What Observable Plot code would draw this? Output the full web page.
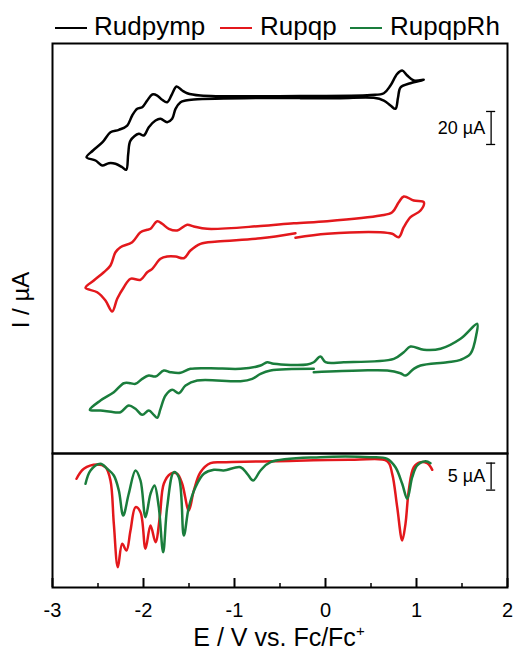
<!DOCTYPE html>
<html>
<head>
<meta charset="utf-8">
<script src="https://cdn.jsdelivr.net/npm/d3@7"></script>
<script src="https://cdn.jsdelivr.net/npm/@observablehq/plot@0.6"></script>
<style>
  body { margin: 0; background: #fff; font-family: "Liberation Sans", Arial, sans-serif; }
  #wrap { position: relative; width: 515px; height: 652px; overflow: hidden; background: #fff; }
  .abs { position: absolute; white-space: nowrap; color: #000; }
</style>
</head>
<body>
<div id="wrap"></div>
<script>
// ---------- data ----------
const seriesNames = ["Rudpymp", "Rupqp", "RupqpRh"];
const seriesColors = ["#000000", "#e3181c", "#1a7d3c"];
// vertical stacking offsets of the CV traces (µA)
const cvOffsets = [216, 135, 51.5];

// Cyclic voltammograms: [E (V vs Fc/Fc+), I (µA)]
const cvRudpymp = [[-0.275,-0.73],[0.165,-0.61],[0.531,-0.42],[0.641,-2.06],[0.714,-5.09],[0.769,-7.09],[0.797,-0.24],[0.824,5.82],[0.934,8.42],[1.080,10.48],[0.970,10.06],[0.898,13.09],[0.843,16.12],[0.788,14.12],[0.714,7.03],[0.641,2.36],[0.495,1.27],[-0.275,0.67],[-1.374,0.97],[-1.520,2.36],[-1.575,4.0],[-1.637,6.42],[-1.685,2.0],[-1.740,-3.09],[-1.795,-1.64],[-1.849,0.97],[-1.904,1.58],[-1.959,-2.06],[-2.014,-6.12],[-2.069,-7.09],[-2.124,-11.15],[-2.179,-17.21],[-2.271,-19.82],[-2.363,-21.27],[-2.450,-27.33],[-2.555,-32.36],[-2.626,-36.42],[-2.527,-38.42],[-2.454,-41.45],[-2.381,-40.06],[-2.308,-40.42],[-2.234,-42.48],[-2.190,-44.06],[-2.168,-34.36],[-2.143,-26.30],[-2.052,-22.24],[-1.997,-23.27],[-1.942,-18.24],[-1.868,-14.18],[-1.813,-13.15],[-1.740,-15.21],[-1.685,-13.15],[-1.648,-7.09],[-1.593,-3.09],[-1.538,-2.06],[-1.447,-1.45],[-0.714,-0.55],[-0.275,-0.55]];
const cvRupqp = [[-0.330,-4.27],[0.019,-1.85],[0.604,-0.88],[0.733,-1.85],[0.805,-3.91],[0.860,2.15],[0.934,8.21],[1.044,12.27],[1.080,17.30],[0.970,18.33],[0.860,20.76],[0.805,17.30],[0.733,11.24],[0.604,9.24],[0.019,5.79],[-0.348,4.58],[-0.714,2.88],[-1.300,1.18],[-1.447,2.58],[-1.520,3.61],[-1.630,0.15],[-1.722,1.18],[-1.795,4.21],[-1.849,5.79],[-1.923,1.18],[-1.959,0.58],[-2.033,-0.88],[-2.124,-6.94],[-2.253,-9.97],[-2.308,-13.0],[-2.363,-21.06],[-2.436,-25.12],[-2.546,-30.15],[-2.637,-34.58],[-2.509,-37.24],[-2.418,-42.27],[-2.344,-48.94],[-2.289,-41.24],[-2.216,-34.21],[-2.143,-29.12],[-2.033,-29.73],[-1.959,-25.12],[-1.904,-23.06],[-1.813,-17.0],[-1.740,-15.61],[-1.648,-15.61],[-1.557,-16.64],[-1.484,-11.97],[-1.374,-7.91],[-1.190,-6.52],[-0.714,-4.58],[-0.330,-1.48]];
const cvRupqpRh = [[-0.129,-2.24],[0.385,-1.21],[0.678,-1.21],[0.824,-2.85],[0.879,-4.24],[0.970,-0.18],[1.044,1.82],[1.337,3.82],[1.484,5.27],[1.593,8.91],[1.659,21.03],[1.667,27.09],[1.484,18.0],[1.264,11.94],[1.080,11.33],[0.934,13.33],[0.860,9.88],[0.751,5.88],[0.201,3.82],[0.000,3.82],[-0.055,7.27],[-0.129,3.82],[-0.201,2.42],[-0.568,2.85],[-0.641,3.82],[-0.714,1.82],[-0.934,-0.18],[-1.264,0.18],[-1.484,-0.18],[-1.593,-2.61],[-1.703,-2.24],[-1.777,-1.21],[-1.868,-4.85],[-1.942,-4.24],[-2.014,-6.24],[-2.088,-9.27],[-2.143,-8.91],[-2.216,-8.91],[-2.326,-14.36],[-2.473,-19.39],[-2.590,-25.03],[-2.473,-25.45],[-2.326,-26.48],[-2.253,-26.48],[-2.162,-22.42],[-2.088,-24.42],[-2.014,-28.06],[-1.942,-25.45],[-1.887,-28.06],[-1.849,-29.88],[-1.813,-24.42],[-1.758,-16.36],[-1.685,-12.91],[-1.612,-14.97],[-1.538,-10.30],[-1.410,-7.27],[-0.934,-7.70],[-0.805,-6.24],[-0.714,-3.21],[-0.604,-1.21],[-0.129,-0.18]];

// Differential pulse voltammograms: [E (V), I (µA)]
const dpvRupqp = [[-2.736,-3.20],[-2.656,-1.35],[-2.509,-0.56],[-2.418,-1.06],[-2.363,-3.52],[-2.326,-11.54],[-2.282,-19.57],[-2.234,-15.24],[-2.187,-16.48],[-2.143,-12.78],[-2.088,-8.46],[-2.033,-9.39],[-1.978,-16.17],[-1.923,-11.85],[-1.868,-14.94],[-1.821,-10.31],[-1.777,-4.13],[-1.703,-2.28],[-1.630,-2.28],[-1.575,-4.13],[-1.502,-9.07],[-1.447,-5.37],[-1.374,-1.98],[-1.264,-0.31],[-1.118,-0.13],[-0.568,0.06],[0.311,0.31],[0.678,0.06],[0.733,-2.28],[0.788,-8.46],[0.843,-14.63],[0.879,-11.54],[0.915,-5.37],[0.970,-1.06],[1.044,-0.13],[1.118,-0.31],[1.173,-1.54]];
const dpvRupqpRh = [[-2.637,-4.13],[-2.582,-1.67],[-2.473,-0.43],[-2.399,-1.35],[-2.326,-2.59],[-2.271,-5.37],[-2.223,-10.0],[-2.162,-5.98],[-2.088,-1.67],[-2.033,-3.52],[-1.978,-10.31],[-1.923,-5.98],[-1.879,-4.44],[-1.832,-8.46],[-1.784,-16.80],[-1.740,-8.46],[-1.667,-1.98],[-1.612,-2.91],[-1.557,-13.70],[-1.502,-8.46],[-1.429,-4.76],[-1.337,-2.28],[-1.227,-1.54],[-1.118,-1.67],[-0.934,-1.06],[-0.860,-2.28],[-0.795,-3.52],[-0.714,-1.67],[-0.604,-0.13],[-0.055,0.80],[0.495,0.80],[0.678,0.50],[0.769,-1.06],[0.843,-4.13],[0.898,-6.91],[0.953,-2.91],[1.008,-0.74],[1.099,0.06],[1.154,-0.31]];

// axis ticks
const xMajorTicks = [-3, -2, -1, 0, 1, 2];
const xMinorTicks = [-2.5, -1.5, -0.5, 0.5, 1.5];
const xDomain = [-3, 2];
const cvDomain = [0, 248.5];
const dpvDomain = [-23.33, 1.48];

// scale bars: x, lower end, upper end, cap half-width (V), label
const cvScaleBar = { x: 1.82, y1: 187.3, y2: 207.3, cap: 0.05, label: "20 µA", labelX: 1.755 };
const dpvScaleBar = { x: 1.82, y1: -5.3, y2: -0.3, cap: 0.05, label: "5 µA", labelX: 1.755 };

const axisTitleX = "E / V vs. Fc/Fc<sup>+</sup>";
const axisTitleY = "I / µA";

// ---------- build tables ----------
const cvSets = [cvRudpymp, cvRupqp, cvRupqpRh];
const cvRows = cvSets.flatMap((arr, i) => arr.map(([E, I]) => ({ series: seriesNames[i], E, I: I + cvOffsets[i] })));
const dpvRows = [[dpvRupqp, 1], [dpvRupqpRh, 2]].flatMap(([arr, i]) => arr.map(([E, I]) => ({ series: seriesNames[i], E, I })));

const FONT = '"Liberation Sans", Arial, sans-serif';
const colorScale = { domain: seriesNames, range: seriesColors };

function scaleBarMarks(b, fontSize) {
  return [
    Plot.ruleX([b], { x: "x", y1: "y1", y2: "y2", stroke: "black", strokeWidth: 1.3 }),
    Plot.ruleY([b.y1, b.y2], { y: d => d, x1: b.x - b.cap, x2: b.x + b.cap, stroke: "black", strokeWidth: 1.3 }),
    Plot.text([b], { x: "labelX", y: d => (d.y1 + d.y2) / 2, text: "label", textAnchor: "end", fontSize, fill: "black" })
  ];
}

const wrap = document.getElementById("wrap");

// ---------- top panel: CV ----------
const cvPlot = Plot.plot({
  width: 515, height: 414,
  marginLeft: 52, marginRight: 8, marginTop: 2, marginBottom: 2,
  style: { background: "transparent", overflow: "visible", fontFamily: FONT },
  x: { domain: xDomain, axis: null },
  y: { domain: cvDomain, axis: null },
  color: colorScale,
  marks: [
    Plot.line(cvRows, { x: "E", y: "I", z: "series", stroke: "series", strokeWidth: 2.5, curve: "catmull-rom" }),
    ...scaleBarMarks(cvScaleBar, 18),
    Plot.frame({ stroke: "black", strokeWidth: 2 })
  ]
});
cvPlot.style.position = "absolute"; cvPlot.style.left = "0px"; cvPlot.style.top = "41px";
wrap.appendChild(cvPlot);

// ---------- bottom panel: DPV ----------
const fmt = d => (d < 0 ? "-" + Math.abs(d) : String(d));
const dpvPlot = Plot.plot({
  width: 515, height: 196,
  marginLeft: 52, marginRight: 8, marginTop: 2, marginBottom: 60,
  style: { background: "transparent", overflow: "visible", fontFamily: FONT },
  x: { domain: xDomain },
  y: { domain: dpvDomain, axis: null },
  color: colorScale,
  marks: [
    Plot.line(dpvRows, { x: "E", y: "I", z: "series", stroke: "series", strokeWidth: 2.5, curve: "catmull-rom" }),
    ...scaleBarMarks(dpvScaleBar, 18),
    Plot.ruleX(xMajorTicks, { x: d => d, insetTop: 125, stroke: "black", strokeWidth: 2 }),
    Plot.ruleX(xMinorTicks, { x: d => d, insetTop: 130, stroke: "black", strokeWidth: 1.5 }),
    Plot.axisX({ ticks: xMajorTicks, tickSize: 0, tickPadding: 15, fontSize: 20, tickFormat: fmt, label: null, fill: "black" }),
    Plot.frame({ stroke: "black", strokeWidth: 2 })
  ]
});
dpvPlot.style.position = "absolute"; dpvPlot.style.left = "0px"; dpvPlot.style.top = "451px";
wrap.appendChild(dpvPlot);

// ---------- legend (HTML above the plot) ----------
const legendLayout = [
  { line: 55, text: 94 },
  { line: 220, text: 260 },
  { line: 350, text: 390 }
];
seriesNames.forEach((name, i) => {
  const ln = document.createElement("div");
  ln.className = "abs";
  Object.assign(ln.style, { left: legendLayout[i].line + "px", top: "26.5px", width: "32px", height: "2.5px", background: seriesColors[i] });
  wrap.appendChild(ln);
  const tx = document.createElement("div");
  tx.className = "abs";
  Object.assign(tx.style, { left: legendLayout[i].text + "px", top: "13px", fontSize: "26px", lineHeight: "26px" });
  tx.textContent = name;
  wrap.appendChild(tx);
});

// ---------- axis titles ----------
const xt = document.createElement("div");
xt.className = "abs";
Object.assign(xt.style, { left: "279px", top: "625px", fontSize: "25px", lineHeight: "25px", transform: "translateX(-50%)" });
xt.innerHTML = axisTitleX.replace("<sup>", '<sup style="font-size:15px;vertical-align:10px;line-height:0">');
wrap.appendChild(xt);

const yt = document.createElement("div");
yt.className = "abs";
Object.assign(yt.style, { left: "21px", top: "300px", fontSize: "24px", lineHeight: "24px", transform: "translate(-50%,-50%) rotate(-90deg)" });
yt.textContent = axisTitleY;
wrap.appendChild(yt);
</script>
</body>
</html>
